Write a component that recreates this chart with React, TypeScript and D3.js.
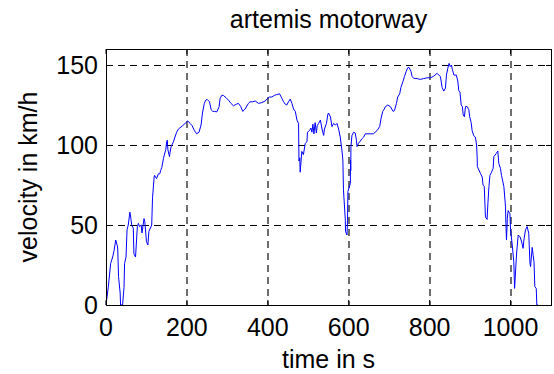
import React from "react";
import * as d3 from "d3";

const titleText = "artemis motorway";
const xLabel = "time in s";
const yLabel = "velocity in km/h";
const xTicks = [0, 200, 400, 600, 800, 1000];
const yTicks = [0, 50, 100, 150];

const time = [
  0, 5.8, 11.5, 16.5, 20, 24, 28, 29, 31, 35, 36, 41, 44.5, 46, 49.5, 52, 55, 59, 61, 63.5, 67.5, 69, 73, 77.5, 80, 83, 87, 89, 94, 96, 100, 103.5, 106, 113, 115, 119, 120, 125, 129.5, 133, 135, 138, 142, 144, 147.7, 150, 151.5, 153, 157, 158, 161, 166.7, 170.5, 174.7, 179, 189, 195.5, 202, 208, 213, 218.6, 224, 230, 235, 238.5, 243, 246.5, 250, 255.8, 260, 264, 268, 274, 279.7, 282, 286, 290, 297, 302.8, 309, 315, 322, 327.5, 333, 338, 344, 352, 356, 362, 369, 377, 385, 393.6, 397.7, 404, 410, 416, 422, 429, 432, 435, 439, 443, 447, 451, 455.4, 459.6, 463.7, 468, 472, 476, 477, 479, 480, 484, 488, 492.5, 496.7, 498, 503, 506.6, 509, 511.5, 514, 517, 520, 522, 525.6, 530, 534, 538, 540, 545, 548, 550, 555, 558.5, 562.6, 567, 571, 575, 579, 583, 585.5, 587, 591.6, 592, 595.7, 597, 598, 604, 604.5, 605, 605.5, 608, 612, 616, 619, 620.5, 624, 628.7, 633, 637, 641, 653, 661, 670, 676.5, 680, 684, 688, 690.6, 696.5, 703, 709.6, 713, 718, 721, 726, 729, 734, 737.6, 741.8, 745.8, 749, 754, 756.6, 761, 769, 777, 785, 793.6, 802, 810, 818.5, 826.7, 830.8, 835, 839, 841.6, 845, 848, 851, 854, 856.4, 860, 866, 869.6, 872, 875, 878, 881, 883, 886, 888.6, 892.8, 897, 899, 902.6, 905, 909, 913, 916, 917.6, 918, 926, 930, 932, 935, 938, 942, 944, 946.6, 949, 953, 957, 958.6, 965, 968.5, 971, 975, 977.7, 983.5, 987.6, 988.5, 990, 992, 994, 998.5, 1000, 1004, 1008, 1010, 1015, 1019, 1023, 1027, 1031, 1033, 1037, 1041, 1045, 1048, 1049.5, 1053.5, 1056, 1058, 1060, 1063.5, 1065, 1068
];
const speed = [
  0, 11.5, 26, 30, 34, 40.6, 37, 35, 17.7, 7.5, 0, 0, 11, 26, 30, 47, 50, 58, 55, 50, 48, 32, 30, 49, 51, 49, 50, 45, 54, 52, 39.6, 37.5, 46, 50, 67, 80, 81, 79, 82, 82, 84, 86, 91.5, 93.7, 97, 102, 103, 97, 92.7, 95, 99, 102, 105, 108, 110, 112, 113.5, 115, 113.5, 112, 109, 107, 108, 112.5, 120, 126, 128, 128.5, 127, 122, 121, 121, 120.7, 124, 129, 131, 131, 129.5, 128, 126, 124.5, 125.5, 126, 124, 121, 122.5, 126, 127, 127, 127.5, 126, 126.5, 127.5, 128.7, 130, 130, 131, 131.5, 132, 130.5, 129, 127, 125.5, 125, 127, 128.7, 126, 122.5, 121, 115.6, 113.5, 90, 92, 83, 96, 94, 101, 102, 108, 109, 110.6, 108, 113, 107, 114, 107.5, 112, 113.5, 115.6, 110, 106, 110, 113.5, 118.75, 120, 117.5, 111.5, 113.5, 112.5, 113.5, 110, 105, 97, 90.6, 72, 53, 46, 43.75, 53, 71, 76, 90.6, 84, 99, 106, 108, 107.5, 103, 99, 101, 102.5, 104, 105, 107, 107, 107, 109, 111.5, 116.7, 121, 122.5, 124, 125, 124, 121, 121.5, 126, 130, 132, 136, 139.6, 142.7, 145.8, 148.3, 148.5, 146, 142.7, 141.7, 141.5, 141, 141.5, 142, 142, 143, 144.8, 142.7, 136, 133.7, 135.5, 143.7, 148, 151, 149, 150, 147, 143.7, 143.7, 140, 134, 133, 125, 124, 118.75, 117.7, 124, 124, 122, 117.7, 114, 109, 105.8, 105, 100, 91.7, 86.5, 82, 80, 75, 74, 55, 53.5, 63.5, 74, 81, 83, 85.4, 92.7, 94.8, 96.25, 88.5, 85.4, 81, 74, 61.4, 51, 40.6, 54, 59, 57, 47, 38, 27, 10.4, 32.5, 43.75, 42.7, 40, 35.4, 40.6, 47, 49, 44.8, 26, 24, 36, 31, 27, 11.5, 10.4, 0, 0
];

const W = 554;
const H = 374;
const L = 106;
const R = 551;
const T = 49;
const B = 305;
const FONT = "'Liberation Sans', Arial, sans-serif";
const FS = 25;

export default function App() {
  const x = d3.scaleLinear().domain([0, 1100]).range([L, R]);
  const y = d3.scaleLinear().domain([0, 160]).range([B, T]);
  const pts: [number, number][] = time.map((t, i) => [t, speed[i]]);
  const line = d3
    .line<[number, number]>()
    .x((d) => x(d[0]))
    .y((d) => y(d[1]));
  const tickLen = 5;
  return (
    <svg
      width={W}
      height={H}
      style={{ position: "absolute", left: 0, top: 0, background: "#fff" }}
      fontFamily={FONT}
    >
      <rect x={0} y={0} width={W} height={H} fill="#fff" />
      {/* grid */}
      {xTicks
        .filter((t) => t > 0)
        .map((t) => (
          <line
            key={"gx" + t}
            x1={Math.round(x(t))}
            x2={Math.round(x(t))}
            y1={T}
            y2={B}
            stroke="#6e6e6e"
            strokeWidth={2}
            strokeDasharray="7,5"
          />
        ))}
      {yTicks
        .filter((t) => t > 0)
        .map((t) => (
          <line
            key={"gy" + t}
            x1={L}
            x2={R}
            y1={y(t) + 0.5}
            y2={y(t) + 0.5}
            stroke="#000"
            strokeWidth={1}
            strokeDasharray="7,5"
          />
        ))}
      {/* data */}
      <path d={line(pts) || ""} fill="none" stroke="#0000ff" strokeWidth={1} />
      {/* box */}
      <rect
        x={L + 0.5}
        y={T + 0.5}
        width={R - L}
        height={B - T}
        fill="none"
        stroke="#000"
        strokeWidth={1}
      />
      {/* ticks */}
      {xTicks.map((t) => (
        <g key={"tx" + t}>
          <line x1={x(t)} x2={x(t)} y1={B} y2={B - tickLen} stroke="#000" />
          <line x1={x(t)} x2={x(t)} y1={T} y2={T + tickLen} stroke="#000" />
          <text
            x={x(t)}
            y={B + 31}
            textAnchor="middle"
            fontSize={FS}
            fill="#000"
          >
            {t}
          </text>
        </g>
      ))}
      {yTicks.map((t) => (
        <g key={"ty" + t}>
          <line x1={L} x2={L + tickLen} y1={y(t) + 0.5} y2={y(t) + 0.5} stroke="#000" />
          <line x1={R} x2={R - tickLen} y1={y(t) + 0.5} y2={y(t) + 0.5} stroke="#000" />
          <text
            x={L - 8}
            y={y(t) + 9}
            textAnchor="end"
            fontSize={FS}
            fill="#000"
          >
            {t}
          </text>
        </g>
      ))}
      <text x={(L + R) / 2} y={28} textAnchor="middle" fontSize={FS} fill="#000">
        {titleText}
      </text>
      <text x={(L + R) / 2} y={368} textAnchor="middle" fontSize={FS} fill="#000">
        {xLabel}
      </text>
      <text
        transform={`translate(37,${(T + B) / 2}) rotate(-90)`}
        textAnchor="middle"
        fontSize={FS}
        fill="#000"
      >
        {yLabel}
      </text>
    </svg>
  );
}
